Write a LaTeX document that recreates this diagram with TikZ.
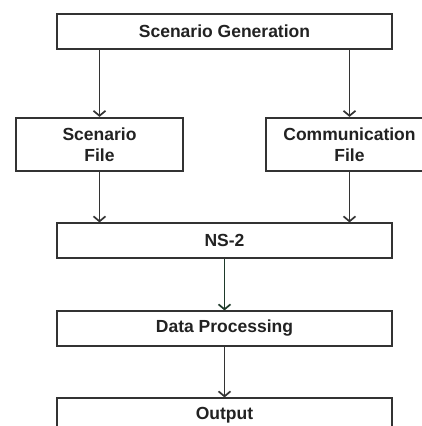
\documentclass[tikz,border=0pt]{standalone}
\usepackage{fontspec}
\setmainfont{Liberation Sans}
\usetikzlibrary{arrows.meta}
\definecolor{ink}{HTML}{222222}
\definecolor{linegray}{HTML}{333333}
\definecolor{darrow}{HTML}{1E3A2A}
\tikzset{
  box/.style={draw=linegray, line width=1.1pt, fill=white, minimum height=35pt,
    inner sep=0pt, text=ink, font=\fontsize{17.5}{21}\selectfont\bfseries},
  widebox/.style={box, minimum width=335pt},
  filebox/.style={box, line width=2.2pt, minimum width=167pt, minimum height=53pt, align=center},
  arr/.style={draw=linegray, line width=1.2pt, -{Straight Barb[length=5pt,width=12pt,line width=1.7pt]}}
}
\begin{document}
\begin{tikzpicture}[x=1pt,y=1pt]
  \clip (0,0) rectangle (422,-426);
  \fill[white] (0,0) rectangle (422,-426);
  % processing chain
  \node[widebox] (gen) at (224.5,-31.5) {Scenario Generation};
  \node[filebox] (sfile) at (99.5,-144.5) {Scenario\\File};
  \node[filebox] (cfile) at (349.5,-144.5) {Communication\\File};
  \node[widebox] (ns2) at (224.5,-240.5) {NS-2};
  \node[widebox] (dp) at (224.5,-328.5) {Data Processing};
  \node[widebox] (out) at (224.5,-415.5) {Output};
  % connectors
  \draw[arr] (gen.south -| sfile.north) -- (sfile.north);
  \draw[arr] (gen.south -| cfile.north) -- (cfile.north);
  \draw[arr] (sfile.south) -- (sfile.south |- ns2.north);
  \draw[arr] (cfile.south) -- (cfile.south |- ns2.north);
  \draw[arr, draw=darrow] (ns2.south) -- (dp.north);
  \draw[arr] (dp.south) -- (out.north);
\end{tikzpicture}
\end{document}
